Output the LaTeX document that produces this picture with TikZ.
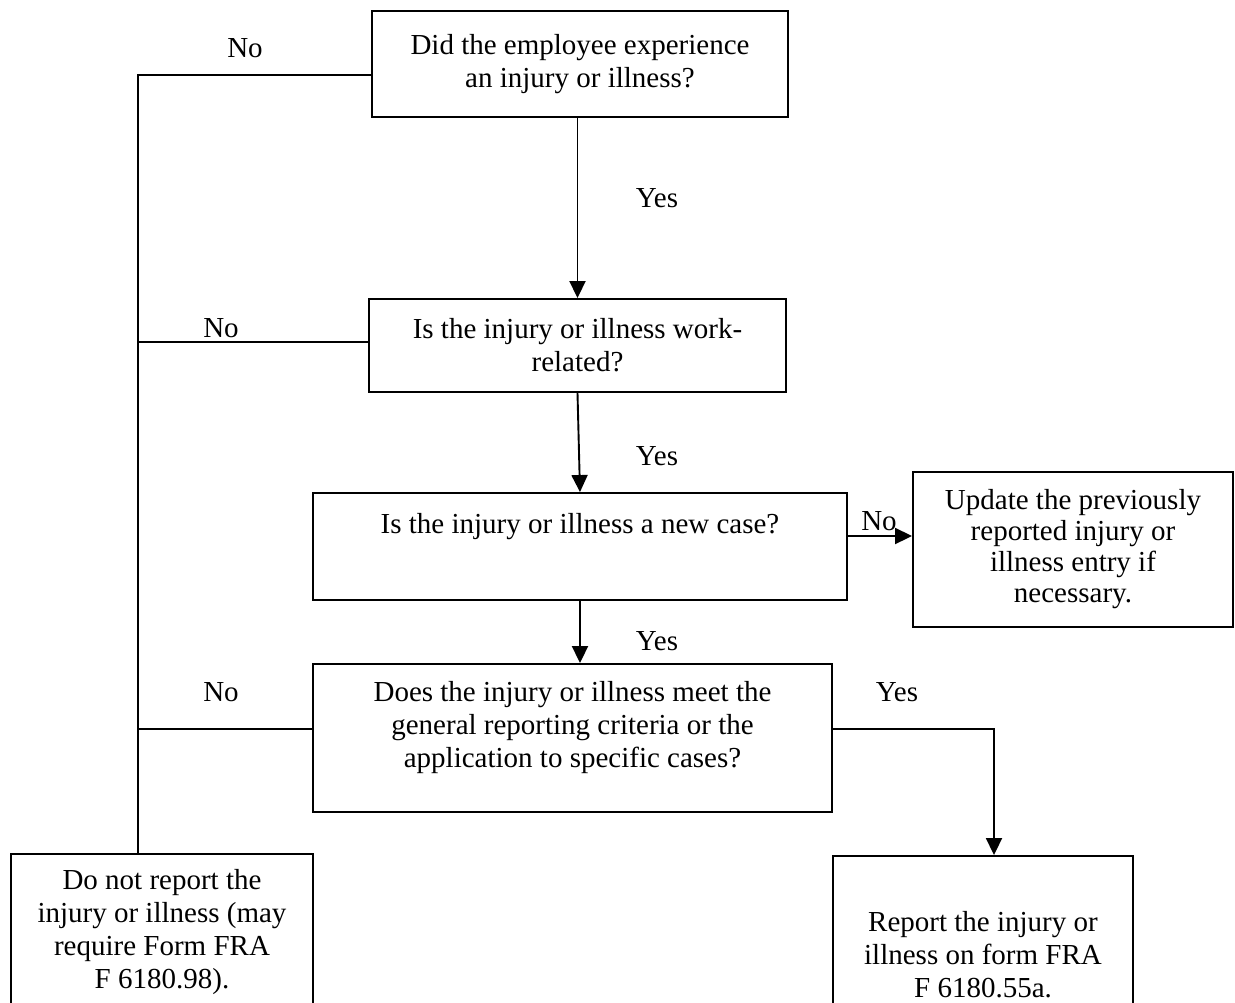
\documentclass[tikz,border=0pt]{standalone}
\usepackage{fontspec}
\setmainfont{Liberation Serif}
\usetikzlibrary{arrows.meta,calc}

\begin{document}
\begin{tikzpicture}[x=1pt,y=-1pt,line width=1.9pt,
    box/.style={draw,align=center,inner sep=0pt,font=\fontsize{29}{33}\selectfont},
    lbl/.style={inner sep=0pt,font=\fontsize{29}{33}\selectfont},
    arr/.style={-{Triangle[length=17pt,width=16pt]}}]
  \useasboundingbox (0,0) rectangle (1235,1002);
  \node[box,minimum width=416pt,minimum height=106pt] (injury) at (580,64) {Did the employee experience\\an injury or illness?};
  \node[box,minimum width=417pt,minimum height=93pt] (workrel) at (577.5,345.5) {Is the injury or illness work-\\related?};
  \node[box,minimum width=534pt,minimum height=107pt,text height=20pt,text depth=47pt] (newcase) at (580,546.5) {Is the injury or illness a new case?};
  \node[box,minimum width=320pt,minimum height=155pt,font=\fontsize{29}{31}\selectfont] (update) at (1073,549.5) {Update the previously\\reported injury or\\illness entry if\\necessary.};
  \node[box,minimum width=519pt,minimum height=148pt,text depth=27pt] (criteria) at (572.5,738) {Does the injury or illness meet the\\general reporting criteria or the\\application to specific cases?};
  \node[box,minimum width=302pt,minimum height=156pt] (norep) at (162,932) {Do not report the\\injury or illness (may\\require Form FRA\\F 6180.98).};
  \node[box,minimum width=300pt,minimum height=198pt] (report) at (983,955) {Report the injury or\\illness on form FRA\\F 6180.55a.};

  \coordinate (nobus) at (138,75);
  \coordinate (nowork) at (138,342);
  \coordinate (nocrit) at (138,729);
  \coordinate (updrow) at (880,536);
  \coordinate (yesturn) at (994,729);

  \draw (injury.west |- nobus) -- (nobus) -- (nobus |- norep.north);
  \draw (workrel.west |- nowork) -- (nowork);
  \draw (criteria.west |- nocrit) -- (nocrit);
  \draw[arr] (workrel.north |- injury.south) -- (workrel.north);
  \draw[arr] (workrel.south) -- (newcase.north);
  \draw[arr] (newcase.south) -- (newcase.south |- criteria.north);
  \draw[arr] (newcase.east |- updrow) -- (update.west |- updrow);
  \draw[arr] (criteria.east |- yesturn) -- (yesturn) -- (yesturn |- report.north);

  \node[lbl] (no1) at (245,48) {No};
  \node[lbl] (no2) at (221,328) {No};
  \node[lbl] (no3) at (221,692) {No};
  \node[lbl] (yes1) at (657,198) {Yes};
  \node[lbl] (yes2) at (657,456) {Yes};
  \node[lbl] (yes3) at (657,641) {Yes};
  \node[lbl] (no4) at (879,521) {No};
  \node[lbl] (yes4) at (897,692) {Yes};
\end{tikzpicture}
\end{document}
